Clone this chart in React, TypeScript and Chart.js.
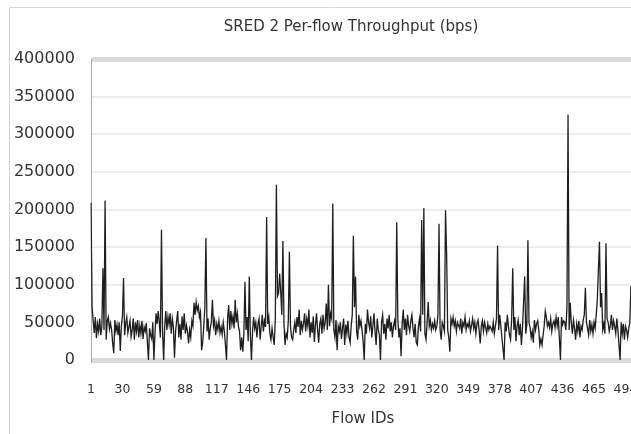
import React, { useEffect, useRef } from "react";
import { Chart, registerables } from "chart.js";

Chart.register(...registerables);

// Per-flow throughput for SRED 2, in kbps (flow 1 .. 500)
const throughputKbps: number[] = [
  209, 71, 52, 36, 57, 29, 48, 38, 55, 33,
  44, 122, 40, 212, 27, 52, 57, 41, 49, 40,
  22, 9, 53, 38, 47, 33, 50, 12, 45, 58,
  109, 33, 48, 57, 36, 44, 52, 31, 40, 55,
  27, 50, 38, 53, 30, 46, 35, 52, 28, 44,
  38, 49, 24, 0, 42, 33, 28, 50, 0, 35,
  62, 48, 65, 50, 30, 173, 38, 0, 45, 65,
  40, 58, 47, 62, 35, 55, 44, 3, 38, 52,
  65, 30, 48, 27, 58, 40, 62, 35, 46, 38,
  22, 40, 30, 52, 45, 76, 60, 77, 66, 72,
  57, 64, 13, 23, 45, 70, 162, 38, 55, 27,
  42, 50, 80, 45, 53, 33, 48, 40, 52, 36,
  44, 34, 50, 38, 20, 0, 55, 73, 40, 65,
  48, 58, 42, 80, 50, 62, 45, 38, 13, 30,
  11, 35, 104, 40, 57, 25, 111, 33, 0, 38,
  57, 42, 50, 30, 48, 55, 27, 45, 60, 38,
  52, 44, 190, 48, 57, 35, 27, 42, 30, 20,
  55, 233, 85, 89, 115, 90, 60, 158, 48, 20,
  35, 30, 52, 144, 45, 30, 27, 40, 50, 36,
  57, 44, 67, 33, 52, 40, 48, 62, 38, 55,
  45, 67, 30, 50, 36, 58, 24, 46, 62, 40,
  23, 48, 55, 35, 60, 42, 50, 75, 40, 100,
  45, 62, 55, 208, 40, 30, 53, 13, 45, 38,
  50, 28, 42, 55, 20, 47, 35, 52, 30, 23,
  46, 60, 165, 70, 111, 38, 27, 60, 45, 52,
  40, 25, 0, 48, 35, 67, 50, 42, 58, 30,
  45, 62, 38, 20, 55, 40, 33, 0, 50, 60,
  35, 48, 27, 55, 42, 60, 38, 50, 30, 45,
  52, 40, 183, 55, 30, 42, 5, 48, 67, 40,
  55, 33, 60, 45, 38, 52, 60, 42, 30, 48,
  23, 20, 45, 55, 38, 186, 60, 202, 35, 27,
  50, 77, 45, 53, 40, 48, 42, 52, 40, 45,
  60, 181, 40, 27, 50, 45, 38, 199, 142, 40,
  30, 11, 55, 48, 57, 45, 52, 38, 50, 46,
  42, 55, 35, 50, 45, 57, 40, 48, 44, 52,
  38, 46, 55, 42, 50, 35, 48, 53, 40, 22,
  45, 52, 38, 50, 43, 36, 48, 40, 45, 42,
  38, 50, 35, 45, 55, 152, 40, 60, 45, 30,
  15, 0, 50, 38, 60, 45, 33, 27, 55, 122,
  40, 57, 25, 45, 53, 33, 48, 20, 42, 76,
  111, 35, 47, 159, 50, 43, 30, 38, 23, 53,
  40, 48, 52, 40, 20, 28, 20, 33, 45, 65,
  57, 45, 50, 43, 55, 38, 48, 52, 43, 57,
  45, 57, 30, 0, 57, 47, 52, 50, 40, 70,
  326, 40, 76, 50, 35, 53, 42, 27, 48, 38,
  52, 30, 45, 40, 53, 60, 96, 50, 42, 33,
  53, 38, 47, 35, 50, 42, 60, 80, 120, 157,
  70, 89, 40, 48, 35, 155, 55, 50, 38, 45,
  60, 40, 52, 45, 35, 55, 40, 20, 0, 50,
  35, 48, 27, 45, 40, 30, 42, 50, 97, 100,
];

// Flow IDs along the category axis
const flowIds: number[] = throughputKbps.map((_, i) => i + 1);

// Every 29th flow ID is labelled
const labelStep = 29;

// Y axis range and step, in bps
const yMin = 0;
const yMax = 400000;
const yStep = 50000;

const chartTitle = "SRED 2 Per-flow Throughput (bps)";
const xAxisTitle = "Flow IDs";

// Draws the outer frame, the title and the axis caption
const decorations = {
  id: "decorations",
  beforeDraw(chart: Chart) {
    const { ctx } = chart;
    ctx.save();
    ctx.fillStyle = "#ffffff";
    ctx.fillRect(0, 0, chart.width, chart.height);
    ctx.strokeStyle = "#d4d4d4";
    ctx.lineWidth = 1;
    ctx.beginPath();
    ctx.moveTo(9.5, chart.height);
    ctx.lineTo(9.5, 7.5);
    ctx.lineTo(chart.width, 7.5);
    ctx.stroke();
    ctx.restore();
  },
  afterDraw(chart: Chart) {
    const { ctx } = chart;
    ctx.save();
    ctx.fillStyle = "#333333";
    ctx.textAlign = "center";
    ctx.textBaseline = "middle";
    ctx.font = '15px "DejaVu Sans"';
    ctx.fillText(chartTitle, 351, 27);
    ctx.font = '15px "DejaVu Sans"';
    ctx.fillText(xAxisTitle, 363, 419);
    ctx.restore();
  },
};

export default function App() {
  const canvasRef = useRef<HTMLCanvasElement | null>(null);

  useEffect(() => {
    const canvas = canvasRef.current;
    if (!canvas) return;
    const chart = new Chart(canvas, {
      type: "line",
      data: {
        labels: flowIds,
        datasets: [
          {
            data: throughputKbps.map((k) => k * 1000),
            borderColor: "#1e1e1e",
            borderWidth: 1.3,
            pointRadius: 0,
            tension: 0,
            fill: false,
          },
        ],
      },
      options: {
        animation: false,
        responsive: false,
        layout: { padding: { left: 0, top: 59, right: 28, bottom: 0 } },
        plugins: {
          legend: { display: false },
          title: { display: false },
          tooltip: { enabled: false },
        },
        scales: {
          x: {
            type: "category",
            offset: false,
            afterFit: (scale: any) => {
              scale.height = 74;
              scale.paddingLeft = 0;
              scale.paddingRight = 0;
            },
            grid: { display: false, drawTicks: false },
            border: { display: false },
            ticks: {
              autoSkip: false,
              maxRotation: 0,
              minRotation: 0,
              padding: 22,
              color: "#333333",
              font: { family: "DejaVu Sans", size: 12.5 },
              callback: (_v: any, index: number) =>
                index % labelStep === 0 ? String(flowIds[index]) : "",
            },
          },
          y: {
            min: yMin,
            max: yMax,
            afterFit: (scale: any) => {
              scale.width = 91;
            },
            grid: {
              drawTicks: false,
              color: (c: any) =>
                c.tick && (c.tick.value === yMin || c.tick.value === yMax)
                  ? "#dadada"
                  : "#ededed",
              lineWidth: (c: any) =>
                c.tick && (c.tick.value === yMin || c.tick.value === yMax)
                  ? 5
                  : 2,
            },
            border: { display: true, color: "#a8a8a8", width: 1 },
            ticks: {
              stepSize: yStep,
              padding: 16,
              color: "#333333",
              font: { family: "DejaVu Sans", size: 16 },
              callback: (v: any) => String(v),
            },
          },
        },
      },
      plugins: [decorations],
    });
    return () => chart.destroy();
  }, []);

  return (
    <div
      style={{
        position: "absolute",
        left: 0,
        top: 0,
        width: 631,
        height: 434,
        overflow: "hidden",
        background: "#ffffff",
      }}
    >
      <canvas ref={canvasRef} width={660} height={434} />
    </div>
  );
}
